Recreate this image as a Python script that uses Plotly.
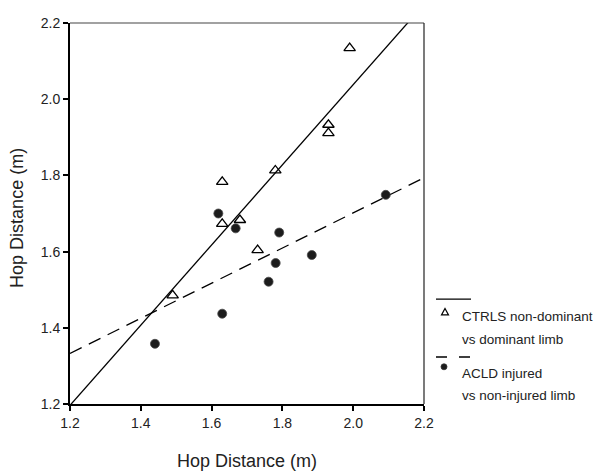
import numpy as np
import plotly.graph_objects as go

# Data
ctrl_x = [1.49, 1.63, 1.63, 1.68, 1.73, 1.78, 1.93, 1.93, 1.99]
ctrl_y = [1.485, 1.783, 1.673, 1.683, 1.604, 1.813, 1.933, 1.911, 2.134]

acld_x = [1.44, 1.619, 1.63, 1.668, 1.761, 1.781, 1.791, 1.883, 2.092]
acld_y = [1.358, 1.70, 1.437, 1.661, 1.521, 1.570, 1.65, 1.591, 1.749]

tick_vals = [1.2, 1.4, 1.6, 1.8, 2.0, 2.2]
axis_title = "Hop Distance (m)"
legend_ctrl = ["CTRLS non-dominant", "vs dominant limb"]
legend_acld = ["ACLD injured", "vs non-injured limb"]

FONT = "Arial, Liberation Sans, sans-serif"
OFF = 8  # page body margin in the browser
W, H = 601 - OFF, 471 - OFF
L, R, T, B = 70 - OFF, 424 - OFF, 15 - OFF, 404 - OFF  # plot area in figure pixels

def px(xp):
    # xp given in window pixels
    return (xp - OFF - L) / (R - L)

def py(yp):
    return (B - (yp - OFF)) / (B - T)

# regression lines (OLS) across the axis range
fit_x = np.array([1.2, 2.2])
c_slope, c_int = np.polyfit(ctrl_x, ctrl_y, 1)
a_slope, a_int = np.polyfit(acld_x, acld_y, 1)

fig = go.Figure()
fig.add_trace(go.Scatter(x=fit_x, y=c_slope * fit_x + c_int, mode="lines",
                         line=dict(color="black", width=1.3), showlegend=False,
                         hoverinfo="skip"))
fig.add_trace(go.Scatter(x=fit_x, y=a_slope * fit_x + a_int, mode="lines",
                         line=dict(color="black", width=1.3, dash="13px,8px"),
                         showlegend=False, hoverinfo="skip"))
fig.add_trace(go.Scatter(x=ctrl_x, y=ctrl_y, mode="markers",
                         marker=dict(symbol="triangle-up-open", size=10,
                                     color="black", line=dict(width=1.3, color="black")),
                         showlegend=False, cliponaxis=False))
fig.add_trace(go.Scatter(x=acld_x, y=acld_y, mode="markers",
                         marker=dict(symbol="circle", size=9, color="#1c1c1c",
                                     line=dict(width=0.8, color="#4a4a4a")),
                         showlegend=False, cliponaxis=False))

axis_common = dict(
    range=[1.2, 2.2], tickvals=tick_vals, ticktext=[f"{v:.1f}" for v in tick_vals],
    showgrid=False, zeroline=False, showline=True, linecolor="black", linewidth=2,
    ticks="outside", ticklen=5, tickwidth=1.5, tickcolor="black",
    tickfont=dict(family=FONT, size=14, color="#222"),
    ticklabeloverflow="allow",
)
fig.update_xaxes(**axis_common)
fig.update_yaxes(**axis_common)

shapes = [
    # top and right frame lines
    dict(type="line", xref="paper", yref="paper", x0=0, x1=1, y0=1, y1=1,
         line=dict(color="#444", width=1.2)),
    dict(type="line", xref="paper", yref="paper", x0=1, x1=1, y0=0, y1=1,
         line=dict(color="#222", width=1.2)),
    # legend lines
    dict(type="line", xref="paper", yref="paper", x0=px(436), x1=px(471),
         y0=py(297), y1=py(297), line=dict(color="black", width=1.3)),
    dict(type="line", xref="paper", yref="paper", x0=px(436), x1=px(470),
         y0=py(356), y1=py(356), line=dict(color="black", width=1.3, dash="11px,12px")),
    # legend markers
    dict(type="path", xref="paper", yref="paper", xsizemode="pixel", ysizemode="pixel",
         xanchor=px(445), yanchor=py(310), path="M -3.5 -3 L 3.5 -3 L 0 3.5 Z",
         line=dict(color="black", width=1.2), fillcolor="rgba(0,0,0,0)"),
    dict(type="circle", xref="paper", yref="paper", xsizemode="pixel", ysizemode="pixel",
         xanchor=px(444), yanchor=py(366), x0=-3, x1=3, y0=-3, y1=3,
         line=dict(color="#333", width=0.8), fillcolor="#1c1c1c"),
]

annotations = [
    dict(text=axis_title, xref="paper", yref="paper", x=0.5, y=py(462),
         showarrow=False, font=dict(family=FONT, size=18, color="#222"),
         xanchor="center", yanchor="middle"),
    dict(text=axis_title, xref="paper", yref="paper", x=px(17), y=py(214),
         showarrow=False, textangle=-90, font=dict(family=FONT, size=18, color="#222"),
         xanchor="center", yanchor="middle"),
]
legend_rows = [(legend_ctrl[0], 315), (legend_ctrl[1], 338),
               (legend_acld[0], 373), (legend_acld[1], 395)]
for txt, yy in legend_rows:
    annotations.append(dict(text=txt, xref="paper", yref="paper", x=px(460), y=py(yy),
                            showarrow=False, xanchor="left", yanchor="middle",
                            font=dict(family=FONT, size=13.5, color="#222")))

fig.update_layout(
    width=W, height=H,
    margin=dict(l=L, r=W - R, t=T, b=H - B, pad=0),
    paper_bgcolor="white", plot_bgcolor="white",
    shapes=shapes, annotations=annotations,
    showlegend=False,
    font=dict(family=FONT, color="#222"),
)

fig.write_html("out.html")
